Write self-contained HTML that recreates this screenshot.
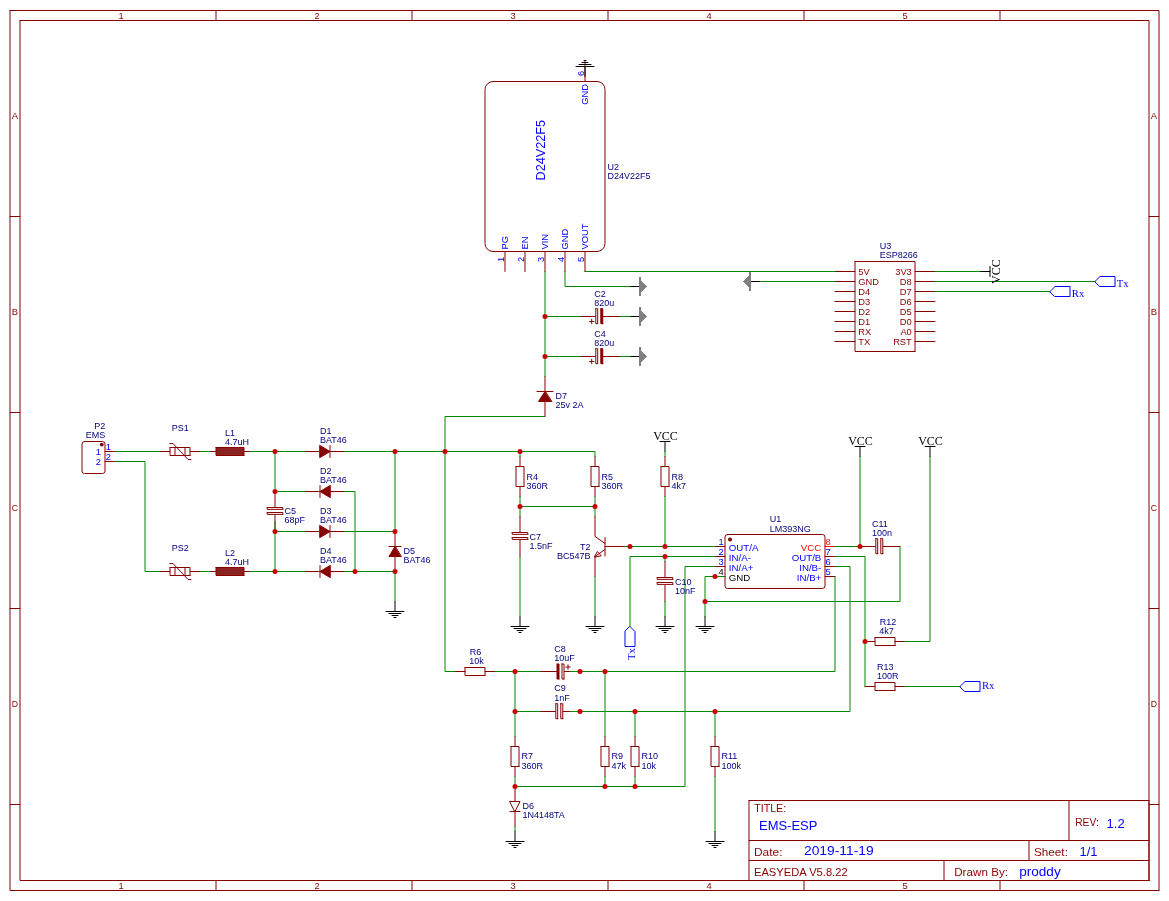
<!DOCTYPE html>
<html><head><meta charset="utf-8"><title>EMS-ESP schematic</title>
<style>html,body{margin:0;padding:0;background:#fff}svg{display:block;will-change:transform}text{white-space:pre}</style>
</head><body>
<svg width="1169" height="901" viewBox="0 0 1169 901">
<rect x="0" y="0" width="1169" height="901" fill="#FFFFFF"/>
<g transform="translate(0,0.5)" fill="none" stroke-linecap="round" stroke-linejoin="round">
<path d="M10 10L1159 10L1159 890M1159 890L10 890L10 10" stroke="#880000" stroke-width="1" fill="none"/>
<path d="M20 20L1149 20L1149 880M1149 880L20 880L20 20" stroke="#880000" stroke-width="1" fill="none"/>
<path d="M216 10L216 20" stroke="#880000" stroke-width="1" />
<path d="M216 880L216 890" stroke="#880000" stroke-width="1" />
<path d="M412 10L412 20" stroke="#880000" stroke-width="1" />
<path d="M412 880L412 890" stroke="#880000" stroke-width="1" />
<path d="M608 10L608 20" stroke="#880000" stroke-width="1" />
<path d="M608 880L608 890" stroke="#880000" stroke-width="1" />
<path d="M804 10L804 20" stroke="#880000" stroke-width="1" />
<path d="M804 880L804 890" stroke="#880000" stroke-width="1" />
<path d="M1000 10L1000 20" stroke="#880000" stroke-width="1" />
<path d="M1000 880L1000 890" stroke="#880000" stroke-width="1" />
<path d="M10 216L20 216" stroke="#880000" stroke-width="1" />
<path d="M1149 216L1159 216" stroke="#880000" stroke-width="1" />
<path d="M10 412L20 412" stroke="#880000" stroke-width="1" />
<path d="M1149 412L1159 412" stroke="#880000" stroke-width="1" />
<path d="M10 608L20 608" stroke="#880000" stroke-width="1" />
<path d="M1149 608L1159 608" stroke="#880000" stroke-width="1" />
<path d="M10 804L20 804" stroke="#880000" stroke-width="1" />
<path d="M1149 804L1159 804" stroke="#880000" stroke-width="1" />
<path d="M749 800L1149 800L1149 880M1149 880L749 880L749 800" stroke="#880000" stroke-width="1" fill="none"/>
<path d="M749 840L1149 840" stroke="#880000" stroke-width="1" />
<path d="M749 860L1149 860" stroke="#880000" stroke-width="1" />
<path d="M1069 800L1069 840" stroke="#880000" stroke-width="1" />
<path d="M1029 840L1029 860" stroke="#880000" stroke-width="1" />
<path d="M944 860L944 880" stroke="#880000" stroke-width="1" />
<path d="M493 81L597 81A8 8 0 0 1 605 89L605 243A8 8 0 0 1 597 251L493 251A8 8 0 0 1 485 243L485 89A8 8 0 0 1 493 81Z" stroke="#880000" stroke-width="1" fill="none"/>
<path d="M505 251L505 271" stroke="#880000" stroke-width="1" />
<path d="M525 251L525 271" stroke="#880000" stroke-width="1" />
<path d="M545 251L545 271" stroke="#880000" stroke-width="1" />
<path d="M565 251L565 271" stroke="#880000" stroke-width="1" />
<path d="M585 251L585 271" stroke="#880000" stroke-width="1" />
<path d="M585 81L585 61" stroke="#880000" stroke-width="1" />
<path d="M585 76L585 66" stroke="#000000" stroke-width="1" />
<path d="M576 66L594 66" stroke="#000000" stroke-width="1" />
<path d="M579 64L591 64" stroke="#000000" stroke-width="1" />
<path d="M582 62L588 62" stroke="#000000" stroke-width="1" />
<path d="M584 60L586 60" stroke="#000000" stroke-width="1" />
<path d="M855 261L915 261L915 351M915 351L855 351L855 261" stroke="#880000" stroke-width="1" fill="none"/>
<path d="M835 271L855 271" stroke="#880000" stroke-width="1" />
<path d="M915 271L935 271" stroke="#880000" stroke-width="1" />
<path d="M835 281L855 281" stroke="#880000" stroke-width="1" />
<path d="M915 281L935 281" stroke="#880000" stroke-width="1" />
<path d="M835 291L855 291" stroke="#880000" stroke-width="1" />
<path d="M915 291L935 291" stroke="#880000" stroke-width="1" />
<path d="M835 301L855 301" stroke="#880000" stroke-width="1" />
<path d="M915 301L935 301" stroke="#880000" stroke-width="1" />
<path d="M835 311L855 311" stroke="#880000" stroke-width="1" />
<path d="M915 311L935 311" stroke="#880000" stroke-width="1" />
<path d="M835 321L855 321" stroke="#880000" stroke-width="1" />
<path d="M915 321L935 321" stroke="#880000" stroke-width="1" />
<path d="M835 331L855 331" stroke="#880000" stroke-width="1" />
<path d="M915 331L935 331" stroke="#880000" stroke-width="1" />
<path d="M835 341L855 341" stroke="#880000" stroke-width="1" />
<path d="M915 341L935 341" stroke="#880000" stroke-width="1" />
<path d="M630 286L640 286" stroke="#000000" stroke-width="1" />
<path d="M639 276.5L641 276.5L641 279.5L647.3 286L641 292.5L641 295.5L639 295.5Z" fill="#808080" stroke="none" shape-rendering="crispEdges"/>
<path d="M630 316L640 316" stroke="#000000" stroke-width="1" />
<path d="M639 306.5L641 306.5L641 309.5L647.3 316L641 322.5L641 325.5L639 325.5Z" fill="#808080" stroke="none" shape-rendering="crispEdges"/>
<path d="M630 356L640 356" stroke="#000000" stroke-width="1" />
<path d="M639 346.5L641 346.5L641 349.5L647.3 356L641 362.5L641 365.5L639 365.5Z" fill="#808080" stroke="none" shape-rendering="crispEdges"/>
<path d="M760 281L750 281" stroke="#000000" stroke-width="1" />
<path d="M751 271.5L749 271.5L749 274.5L742.7 281L749 287.5L749 290.5L751 290.5Z" fill="#808080" stroke="none" shape-rendering="crispEdges"/>
<path d="M580 316L596 316" stroke="#880000" stroke-width="1" />
<path d="M603 316L620 316" stroke="#880000" stroke-width="1" />
<path d="M595.8 308.2L597.7 308.2L597.7 323.2L595.8 323.2Z" stroke="none" fill="#fff"/>
<path d="M595.8 308.2L597.7 308.2L597.7 323.2M597.7 323.2L595.8 323.2L595.8 308.2" stroke="#880000" stroke-width="1" fill="none"/>
<path d="M600.8 308.2L602.8 308.2L602.8 323.2L600.8 323.2Z" stroke="none" fill="#880000"/>
<path d="M600.8 308.2L602.8 308.2L602.8 323.2M602.8 323.2L600.8 323.2L600.8 308.2" stroke="#880000" stroke-width="1" fill="none"/>
<path d="M589.5 321L593.9000000000001 321" stroke="#880000" stroke-width="1" />
<path d="M591.7 318.8L591.7 323.2" stroke="#880000" stroke-width="1" />
<path d="M580 356L596 356" stroke="#880000" stroke-width="1" />
<path d="M603 356L620 356" stroke="#880000" stroke-width="1" />
<path d="M595.8 348.2L597.7 348.2L597.7 363.2L595.8 363.2Z" stroke="none" fill="#fff"/>
<path d="M595.8 348.2L597.7 348.2L597.7 363.2M597.7 363.2L595.8 363.2L595.8 348.2" stroke="#880000" stroke-width="1" fill="none"/>
<path d="M600.8 348.2L602.8 348.2L602.8 363.2L600.8 363.2Z" stroke="none" fill="#880000"/>
<path d="M600.8 348.2L602.8 348.2L602.8 363.2M602.8 363.2L600.8 363.2L600.8 348.2" stroke="#880000" stroke-width="1" fill="none"/>
<path d="M589.5 361L593.9000000000001 361" stroke="#880000" stroke-width="1" />
<path d="M591.7 358.8L591.7 363.2" stroke="#880000" stroke-width="1" />
<path d="M545 376L545 416" stroke="#880000" stroke-width="1" />
<path d="M545 391L538.5 401L551.5 401Z" stroke="#880000" stroke-width="1" fill="#880000" />
<path d="M537 391L553 391" stroke="#880000" stroke-width="1" />
<path d="M980 271L990 271" stroke="#000000" stroke-width="1" />
<path d="M990 266L990 276" stroke="#000000" stroke-width="1" />
<path d="M1095 281L1100 276L1115 276L1115 286L1100 286Z" stroke="#0000FF" stroke-width="1" fill="none" />
<path d="M1050 291L1055 286L1070 286L1070 296L1055 296Z" stroke="#0000FF" stroke-width="1" fill="none" />
<path d="M960 686L965 681L980 681L980 691L965 691Z" stroke="#0000FF" stroke-width="1" fill="none" />
<path d="M630 626L635 631L635 646L625 646L625 631Z" stroke="#0000FF" stroke-width="1" fill="none" />
<path d="M84.5 441L102.5 441A2.5 2.5 0 0 1 105 443.5L105 470.5A2.5 2.5 0 0 1 102.5 473L84.5 473A2.5 2.5 0 0 1 82 470.5L82 443.5A2.5 2.5 0 0 1 84.5 441Z" stroke="#880000" stroke-width="1" fill="none"/>
<circle cx="101.8" cy="444.1" r="1.9" fill="#880000"/>
<path d="M105 451L115 451" stroke="#880000" stroke-width="1" />
<path d="M105 461L115 461" stroke="#880000" stroke-width="1" />
<path d="M160 451L170 451" stroke="#880000" stroke-width="1" />
<path d="M190 451L200 451" stroke="#880000" stroke-width="1" />
<path d="M170 447L190 447L190 455M190 455L170 455L170 447" stroke="#880000" stroke-width="1" fill="none"/>
<path d="M175 447L175 455" stroke="#880000" stroke-width="1" />
<path d="M185 447L185 455" stroke="#880000" stroke-width="1" />
<path d="M170 443L173 443L188 459L191 459" stroke="#880000" stroke-width="1" fill="none" />
<path d="M210 451L216 451" stroke="#880000" stroke-width="1" />
<path d="M244 451L250 451" stroke="#880000" stroke-width="1" />
<path d="M216 447L244 447L244 455L216 455Z" stroke="none" fill="#8B2323"/>
<path d="M216 447L244 447L244 455M244 455L216 455L216 447" stroke="#880000" stroke-width="1" fill="none"/>
<path d="M160 571L170 571" stroke="#880000" stroke-width="1" />
<path d="M190 571L200 571" stroke="#880000" stroke-width="1" />
<path d="M170 567L190 567L190 575M190 575L170 575L170 567" stroke="#880000" stroke-width="1" fill="none"/>
<path d="M175 567L175 575" stroke="#880000" stroke-width="1" />
<path d="M185 567L185 575" stroke="#880000" stroke-width="1" />
<path d="M170 563L173 563L188 579L191 579" stroke="#880000" stroke-width="1" fill="none" />
<path d="M210 571L216 571" stroke="#880000" stroke-width="1" />
<path d="M244 571L250 571" stroke="#880000" stroke-width="1" />
<path d="M216 567L244 567L244 575L216 575Z" stroke="none" fill="#8B2323"/>
<path d="M216 567L244 567L244 575M244 575L216 575L216 567" stroke="#880000" stroke-width="1" fill="none"/>
<path d="M305 451L345 451" stroke="#880000" stroke-width="1" />
<path d="M320 445L330 451L320 457Z" stroke="#880000" stroke-width="1" fill="#880000" />
<path d="M330 445L330 457" stroke="#880000" stroke-width="1" />
<path d="M305 491L345 491" stroke="#880000" stroke-width="1" />
<path d="M330 485L320 491L330 497Z" stroke="#880000" stroke-width="1" fill="#880000" />
<path d="M320 485L320 497" stroke="#880000" stroke-width="1" />
<path d="M305 531L345 531" stroke="#880000" stroke-width="1" />
<path d="M320 525L330 531L320 537Z" stroke="#880000" stroke-width="1" fill="#880000" />
<path d="M330 525L330 537" stroke="#880000" stroke-width="1" />
<path d="M305 571L345 571" stroke="#880000" stroke-width="1" />
<path d="M330 565L320 571L330 577Z" stroke="#880000" stroke-width="1" fill="#880000" />
<path d="M320 565L320 577" stroke="#880000" stroke-width="1" />
<path d="M275 491L275 507" stroke="#880000" stroke-width="1" />
<path d="M275 514L275 531" stroke="#880000" stroke-width="1" />
<path d="M267.2 507L282.8 507L282.8 508.85L267.2 508.85Z" stroke="none" fill="#fff"/>
<path d="M267.2 507L282.8 507L282.8 508.85M282.8 508.85L267.2 508.85L267.2 507" stroke="#880000" stroke-width="1" fill="none"/>
<path d="M267.2 512L282.8 512L282.8 513.9L267.2 513.9Z" stroke="none" fill="#fff"/>
<path d="M267.2 512L282.8 512L282.8 513.9M282.8 513.9L267.2 513.9L267.2 512" stroke="#880000" stroke-width="1" fill="none"/>
<path d="M395 531L395 571" stroke="#880000" stroke-width="1" />
<path d="M395 546L389 556L401 556Z" stroke="#880000" stroke-width="1" fill="#880000" />
<path d="M389 546L401 546" stroke="#880000" stroke-width="1" />
<path d="M395 601L395 611" stroke="#000000" stroke-width="1" />
<path d="M386 611L404 611" stroke="#000000" stroke-width="1" />
<path d="M389 613L401 613" stroke="#000000" stroke-width="1" />
<path d="M392 615L398 615" stroke="#000000" stroke-width="1" />
<path d="M394 617L396 617" stroke="#000000" stroke-width="1" />
<path d="M520 456L520 466" stroke="#880000" stroke-width="1" />
<path d="M520 486L520 496" stroke="#880000" stroke-width="1" />
<path d="M516 466L524 466L524 486M524 486L516 486L516 466" stroke="#880000" stroke-width="1" fill="none"/>
<path d="M595 456L595 466" stroke="#880000" stroke-width="1" />
<path d="M595 486L595 496" stroke="#880000" stroke-width="1" />
<path d="M591 466L599 466L599 486M599 486L591 486L591 466" stroke="#880000" stroke-width="1" fill="none"/>
<path d="M665 456L665 466" stroke="#880000" stroke-width="1" />
<path d="M665 486L665 496" stroke="#880000" stroke-width="1" />
<path d="M661 466L669 466L669 486M669 486L661 486L661 466" stroke="#880000" stroke-width="1" fill="none"/>
<path d="M520 516L520 532" stroke="#880000" stroke-width="1" />
<path d="M520 539L520 556" stroke="#880000" stroke-width="1" />
<path d="M512.2 532L527.8 532L527.8 533.85L512.2 533.85Z" stroke="none" fill="#fff"/>
<path d="M512.2 532L527.8 532L527.8 533.85M527.8 533.85L512.2 533.85L512.2 532" stroke="#880000" stroke-width="1" fill="none"/>
<path d="M512.2 537L527.8 537L527.8 538.9L512.2 538.9Z" stroke="none" fill="#fff"/>
<path d="M512.2 537L527.8 537L527.8 538.9M527.8 538.9L512.2 538.9L512.2 537" stroke="#880000" stroke-width="1" fill="none"/>
<path d="M520 616L520 626" stroke="#000000" stroke-width="1" />
<path d="M511 626L529 626" stroke="#000000" stroke-width="1" />
<path d="M514 628L526 628" stroke="#000000" stroke-width="1" />
<path d="M517 630L523 630" stroke="#000000" stroke-width="1" />
<path d="M519 632L521 632" stroke="#000000" stroke-width="1" />
<path d="M595 616L595 626" stroke="#000000" stroke-width="1" />
<path d="M586 626L604 626" stroke="#000000" stroke-width="1" />
<path d="M589 628L601 628" stroke="#000000" stroke-width="1" />
<path d="M592 630L598 630" stroke="#000000" stroke-width="1" />
<path d="M594 632L596 632" stroke="#000000" stroke-width="1" />
<path d="M595 516L595 536L605 543" stroke="#880000" stroke-width="1" fill="none" />
<path d="M605 537L605 555.5" stroke="#880000" stroke-width="1" />
<path d="M605 546L625 546" stroke="#880000" stroke-width="1" />
<path d="M605 549L595 556L595 576" stroke="#880000" stroke-width="1" fill="none" />
<path d="M594.5 556.3L597.3 551L601 555Z" stroke="#880000" stroke-width="1" fill="none" />
<path d="M665 441L665 451" stroke="#000000" stroke-width="1" />
<path d="M660 441L670 441" stroke="#000000" stroke-width="1" />
<text x="665.5" y="439" fill="#000000" font-size="12" style="font-family:'Liberation Serif',serif" text-anchor="middle" >VCC</text>
<path d="M860 446L860 456" stroke="#000000" stroke-width="1" />
<path d="M855 446L865 446" stroke="#000000" stroke-width="1" />
<text x="860.5" y="444" fill="#000000" font-size="12" style="font-family:'Liberation Serif',serif" text-anchor="middle" >VCC</text>
<path d="M930 446L930 456" stroke="#000000" stroke-width="1" />
<path d="M925 446L935 446" stroke="#000000" stroke-width="1" />
<text x="930.5" y="444" fill="#000000" font-size="12" style="font-family:'Liberation Serif',serif" text-anchor="middle" >VCC</text>
<path d="M665 561L665 577" stroke="#880000" stroke-width="1" />
<path d="M665 584L665 601" stroke="#880000" stroke-width="1" />
<path d="M657.2 577L672.8 577L672.8 578.85L657.2 578.85Z" stroke="none" fill="#fff"/>
<path d="M657.2 577L672.8 577L672.8 578.85M672.8 578.85L657.2 578.85L657.2 577" stroke="#880000" stroke-width="1" fill="none"/>
<path d="M657.2 582L672.8 582L672.8 583.9L657.2 583.9Z" stroke="none" fill="#fff"/>
<path d="M657.2 582L672.8 582L672.8 583.9M672.8 583.9L657.2 583.9L657.2 582" stroke="#880000" stroke-width="1" fill="none"/>
<path d="M665 616L665 626" stroke="#000000" stroke-width="1" />
<path d="M656 626L674 626" stroke="#000000" stroke-width="1" />
<path d="M659 628L671 628" stroke="#000000" stroke-width="1" />
<path d="M662 630L668 630" stroke="#000000" stroke-width="1" />
<path d="M664 632L666 632" stroke="#000000" stroke-width="1" />
<path d="M705 616L705 626" stroke="#000000" stroke-width="1" />
<path d="M696 626L714 626" stroke="#000000" stroke-width="1" />
<path d="M699 628L711 628" stroke="#000000" stroke-width="1" />
<path d="M702 630L708 630" stroke="#000000" stroke-width="1" />
<path d="M704 632L706 632" stroke="#000000" stroke-width="1" />
<path d="M727.5 534L822.5 534A2.5 2.5 0 0 1 825 536.5L825 585.5A2.5 2.5 0 0 1 822.5 588L727.5 588A2.5 2.5 0 0 1 725 585.5L725 536.5A2.5 2.5 0 0 1 727.5 534Z" stroke="#880000" stroke-width="1" fill="none"/>
<circle cx="730" cy="539" r="2" fill="#880000"/>
<path d="M715 546L725 546" stroke="#880000" stroke-width="1" />
<path d="M825 546L835 546" stroke="#FF0000" stroke-width="1" />
<path d="M715 556L725 556" stroke="#880000" stroke-width="1" />
<path d="M825 556L835 556" stroke="#880000" stroke-width="1" />
<path d="M715 566L725 566" stroke="#880000" stroke-width="1" />
<path d="M825 566L835 566" stroke="#880000" stroke-width="1" />
<path d="M715 576L725 576" stroke="#880000" stroke-width="1" />
<path d="M825 576L835 576" stroke="#880000" stroke-width="1" />
<path d="M860 546L876 546" stroke="#880000" stroke-width="1" />
<path d="M883 546L900 546" stroke="#880000" stroke-width="1" />
<path d="M875.8 538.2L877.7 538.2L877.7 553.2L875.8 553.2Z" stroke="none" fill="#fff"/>
<path d="M875.8 538.2L877.7 538.2L877.7 553.2M877.7 553.2L875.8 553.2L875.8 538.2" stroke="#880000" stroke-width="1" fill="none"/>
<path d="M880.8 538.2L882.8 538.2L882.8 553.2L880.8 553.2Z" stroke="none" fill="#fff"/>
<path d="M880.8 538.2L882.8 538.2L882.8 553.2M882.8 553.2L880.8 553.2L880.8 538.2" stroke="#880000" stroke-width="1" fill="none"/>
<path d="M865 641L875 641" stroke="#880000" stroke-width="1" />
<path d="M895 641L905 641" stroke="#880000" stroke-width="1" />
<path d="M875 637L895 637L895 645M895 645L875 645L875 637" stroke="#880000" stroke-width="1" fill="none"/>
<path d="M865 686L875 686" stroke="#880000" stroke-width="1" />
<path d="M895 686L905 686" stroke="#880000" stroke-width="1" />
<path d="M875 682L895 682L895 690M895 690L875 690L875 682" stroke="#880000" stroke-width="1" fill="none"/>
<path d="M455 671L465 671" stroke="#880000" stroke-width="1" />
<path d="M485 671L495 671" stroke="#880000" stroke-width="1" />
<path d="M465 667L485 667L485 675M485 675L465 675L465 667" stroke="#880000" stroke-width="1" fill="none"/>
<path d="M540 671L557 671" stroke="#880000" stroke-width="1" />
<path d="M564 671L580 671" stroke="#880000" stroke-width="1" />
<path d="M557 663.5L559 663.5L559 678.5L557 678.5Z" stroke="none" fill="#880000"/>
<path d="M557 663.5L559 663.5L559 678.5M559 678.5L557 678.5L557 663.5" stroke="#880000" stroke-width="1" fill="none"/>
<path d="M562 663.5L564 663.5L564 678.5L562 678.5Z" stroke="none" fill="#fff"/>
<path d="M562 663.5L564 663.5L564 678.5M564 678.5L562 678.5L562 663.5" stroke="#880000" stroke-width="1" fill="none"/>
<path d="M565.8 666.5L570.2 666.5" stroke="#880000" stroke-width="1" />
<path d="M568 664.3L568 668.7" stroke="#880000" stroke-width="1" />
<path d="M540 711L556 711" stroke="#880000" stroke-width="1" />
<path d="M563 711L580 711" stroke="#880000" stroke-width="1" />
<path d="M555.8 703.2L557.7 703.2L557.7 718.2L555.8 718.2Z" stroke="none" fill="#fff"/>
<path d="M555.8 703.2L557.7 703.2L557.7 718.2M557.7 718.2L555.8 718.2L555.8 703.2" stroke="#880000" stroke-width="1" fill="none"/>
<path d="M560.8 703.2L562.8 703.2L562.8 718.2L560.8 718.2Z" stroke="none" fill="#fff"/>
<path d="M560.8 703.2L562.8 703.2L562.8 718.2M562.8 718.2L560.8 718.2L560.8 703.2" stroke="#880000" stroke-width="1" fill="none"/>
<path d="M515 736L515 746" stroke="#880000" stroke-width="1" />
<path d="M515 766L515 776" stroke="#880000" stroke-width="1" />
<path d="M511 746L519 746L519 766M519 766L511 766L511 746" stroke="#880000" stroke-width="1" fill="none"/>
<path d="M605 736L605 746" stroke="#880000" stroke-width="1" />
<path d="M605 766L605 776" stroke="#880000" stroke-width="1" />
<path d="M601 746L609 746L609 766M609 766L601 766L601 746" stroke="#880000" stroke-width="1" fill="none"/>
<path d="M635 736L635 746" stroke="#880000" stroke-width="1" />
<path d="M635 766L635 776" stroke="#880000" stroke-width="1" />
<path d="M631 746L639 746L639 766M639 766L631 766L631 746" stroke="#880000" stroke-width="1" fill="none"/>
<path d="M715 736L715 746" stroke="#880000" stroke-width="1" />
<path d="M715 766L715 776" stroke="#880000" stroke-width="1" />
<path d="M711 746L719 746L719 766M719 766L711 766L711 746" stroke="#880000" stroke-width="1" fill="none"/>
<path d="M515 786L515 801" stroke="#880000" stroke-width="1" />
<path d="M515 811L515 826" stroke="#880000" stroke-width="1" />
<path d="M510 801L520 801L515 811Z" stroke="#880000" stroke-width="1" fill="none" />
<path d="M510 811L520 811" stroke="#880000" stroke-width="1" />
<path d="M515 831L515 841" stroke="#000000" stroke-width="1" />
<path d="M506 841L524 841" stroke="#000000" stroke-width="1" />
<path d="M509 843L521 843" stroke="#000000" stroke-width="1" />
<path d="M512 845L518 845" stroke="#000000" stroke-width="1" />
<path d="M514 847L516 847" stroke="#000000" stroke-width="1" />
<path d="M715 831L715 841" stroke="#000000" stroke-width="1" />
<path d="M706 841L724 841" stroke="#000000" stroke-width="1" />
<path d="M709 843L721 843" stroke="#000000" stroke-width="1" />
<path d="M712 845L718 845" stroke="#000000" stroke-width="1" />
<path d="M714 847L716 847" stroke="#000000" stroke-width="1" />
<path d="M585 271L835 271" stroke="#008800" stroke-width="1" fill="none" />
<path d="M565 271L565 286L630 286" stroke="#008800" stroke-width="1" fill="none" />
<path d="M545 271L545 376" stroke="#008800" stroke-width="1" fill="none" />
<path d="M545 316L580 316" stroke="#008800" stroke-width="1" fill="none" />
<path d="M620 316L630 316" stroke="#008800" stroke-width="1" fill="none" />
<path d="M545 356L580 356" stroke="#008800" stroke-width="1" fill="none" />
<path d="M620 356L630 356" stroke="#008800" stroke-width="1" fill="none" />
<path d="M545 416L445 416L445 671L455 671" stroke="#008800" stroke-width="1" fill="none" />
<path d="M760 281L835 281" stroke="#008800" stroke-width="1" fill="none" />
<path d="M935 271L980 271" stroke="#008800" stroke-width="1" fill="none" />
<path d="M935 281L1095 281" stroke="#008800" stroke-width="1" fill="none" />
<path d="M935 291L1050 291" stroke="#008800" stroke-width="1" fill="none" />
<path d="M115 451L160 451" stroke="#008800" stroke-width="1" fill="none" />
<path d="M200 451L210 451" stroke="#008800" stroke-width="1" fill="none" />
<path d="M250 451L305 451" stroke="#008800" stroke-width="1" fill="none" />
<path d="M345 451L595 451L595 456" stroke="#008800" stroke-width="1" fill="none" />
<path d="M115 461L145 461L145 571L160 571" stroke="#008800" stroke-width="1" fill="none" />
<path d="M200 571L210 571" stroke="#008800" stroke-width="1" fill="none" />
<path d="M250 571L305 571" stroke="#008800" stroke-width="1" fill="none" />
<path d="M345 571L395 571" stroke="#008800" stroke-width="1" fill="none" />
<path d="M275 451L275 491" stroke="#008800" stroke-width="1" fill="none" />
<path d="M275 521L275 571" stroke="#008800" stroke-width="1" fill="none" />
<path d="M275 491L305 491" stroke="#008800" stroke-width="1" fill="none" />
<path d="M345 491L355 491L355 571" stroke="#008800" stroke-width="1" fill="none" />
<path d="M275 531L305 531" stroke="#008800" stroke-width="1" fill="none" />
<path d="M345 531L395 531" stroke="#008800" stroke-width="1" fill="none" />
<path d="M395 451L395 531" stroke="#008800" stroke-width="1" fill="none" />
<path d="M395 571L395 601" stroke="#008800" stroke-width="1" fill="none" />
<path d="M520 451L520 456" stroke="#008800" stroke-width="1" fill="none" />
<path d="M520 496L520 516" stroke="#008800" stroke-width="1" fill="none" />
<path d="M520 556L520 616" stroke="#008800" stroke-width="1" fill="none" />
<path d="M520 506L595 506" stroke="#008800" stroke-width="1" fill="none" />
<path d="M595 496L595 516" stroke="#008800" stroke-width="1" fill="none" />
<path d="M595 576L595 616" stroke="#008800" stroke-width="1" fill="none" />
<path d="M625 546L715 546" stroke="#008800" stroke-width="1" fill="none" />
<path d="M665 451L665 456" stroke="#008800" stroke-width="1" fill="none" />
<path d="M665 496L665 546" stroke="#008800" stroke-width="1" fill="none" />
<path d="M715 556L630 556L630 626" stroke="#008800" stroke-width="1" fill="none" />
<path d="M665 556L665 561" stroke="#008800" stroke-width="1" fill="none" />
<path d="M665 601L665 616" stroke="#008800" stroke-width="1" fill="none" />
<path d="M715 566L685 566L685 786L515 786" stroke="#008800" stroke-width="1" fill="none" />
<path d="M725 576L705 576L705 616" stroke="#008800" stroke-width="1" fill="none" />
<path d="M705 601L900 601L900 546" stroke="#008800" stroke-width="1" fill="none" />
<path d="M835 546L860 546" stroke="#008800" stroke-width="1" fill="none" />
<path d="M860 456L860 546" stroke="#008800" stroke-width="1" fill="none" />
<path d="M835 556L865 556L865 686" stroke="#008800" stroke-width="1" fill="none" />
<path d="M905 641L930 641L930 456" stroke="#008800" stroke-width="1" fill="none" />
<path d="M905 686L960 686" stroke="#008800" stroke-width="1" fill="none" />
<path d="M835 566L850 566L850 711L570 711" stroke="#008800" stroke-width="1" fill="none" />
<path d="M515 711L540 711" stroke="#008800" stroke-width="1" fill="none" />
<path d="M835 576L835 671L570 671" stroke="#008800" stroke-width="1" fill="none" />
<path d="M495 671L540 671" stroke="#008800" stroke-width="1" fill="none" />
<path d="M515 671L515 736" stroke="#008800" stroke-width="1" fill="none" />
<path d="M515 776L515 786" stroke="#008800" stroke-width="1" fill="none" />
<path d="M515 826L515 831" stroke="#008800" stroke-width="1" fill="none" />
<path d="M605 671L605 736" stroke="#008800" stroke-width="1" fill="none" />
<path d="M605 776L605 786" stroke="#008800" stroke-width="1" fill="none" />
<path d="M635 711L635 736" stroke="#008800" stroke-width="1" fill="none" />
<path d="M635 776L635 786" stroke="#008800" stroke-width="1" fill="none" />
<path d="M715 711L715 736" stroke="#008800" stroke-width="1" fill="none" />
<path d="M715 776L715 831" stroke="#008800" stroke-width="1" fill="none" />
<circle cx="545" cy="316" r="2.5" fill="#CC0000"/>
<circle cx="545" cy="356" r="2.5" fill="#CC0000"/>
<circle cx="275" cy="451" r="2.5" fill="#CC0000"/>
<circle cx="395" cy="451" r="2.5" fill="#CC0000"/>
<circle cx="445" cy="451" r="2.5" fill="#CC0000"/>
<circle cx="520" cy="451" r="2.5" fill="#CC0000"/>
<circle cx="275" cy="491" r="2.5" fill="#CC0000"/>
<circle cx="275" cy="531" r="2.5" fill="#CC0000"/>
<circle cx="395" cy="531" r="2.5" fill="#CC0000"/>
<circle cx="275" cy="571" r="2.5" fill="#CC0000"/>
<circle cx="355" cy="571" r="2.5" fill="#CC0000"/>
<circle cx="395" cy="571" r="2.5" fill="#CC0000"/>
<circle cx="520" cy="506" r="2.5" fill="#CC0000"/>
<circle cx="595" cy="506" r="2.5" fill="#CC0000"/>
<circle cx="630" cy="546" r="2.5" fill="#CC0000"/>
<circle cx="665" cy="546" r="2.5" fill="#CC0000"/>
<circle cx="665" cy="556" r="2.5" fill="#CC0000"/>
<circle cx="715" cy="576" r="2.5" fill="#CC0000"/>
<circle cx="705" cy="601" r="2.5" fill="#CC0000"/>
<circle cx="860" cy="546" r="2.5" fill="#CC0000"/>
<circle cx="865" cy="641" r="2.5" fill="#CC0000"/>
<circle cx="515" cy="671" r="2.5" fill="#CC0000"/>
<circle cx="580" cy="671" r="2.5" fill="#CC0000"/>
<circle cx="605" cy="671" r="2.5" fill="#CC0000"/>
<circle cx="515" cy="711" r="2.5" fill="#CC0000"/>
<circle cx="580" cy="711" r="2.5" fill="#CC0000"/>
<circle cx="635" cy="711" r="2.5" fill="#CC0000"/>
<circle cx="715" cy="711" r="2.5" fill="#CC0000"/>
<circle cx="515" cy="786" r="2.5" fill="#CC0000"/>
<circle cx="605" cy="786" r="2.5" fill="#CC0000"/>
<circle cx="635" cy="786" r="2.5" fill="#CC0000"/>
</g>
<g stroke="none">
<text x="607.5" y="169.5" fill="#000080" font-size="9" style="font-family:'Liberation Sans',sans-serif" >U2</text>
<text x="607.5" y="178.5" fill="#000080" font-size="9" style="font-family:'Liberation Sans',sans-serif" >D24V22F5</text>
<text x="879.8" y="249.3" fill="#000080" font-size="9" style="font-family:'Liberation Sans',sans-serif" >U3</text>
<text x="879.8" y="258.3" fill="#000080" font-size="9" style="font-family:'Liberation Sans',sans-serif" >ESP8266</text>
<text x="594.2" y="296.6" fill="#000080" font-size="9" style="font-family:'Liberation Sans',sans-serif" >C2</text>
<text x="594.2" y="305.6" fill="#000080" font-size="9" style="font-family:'Liberation Sans',sans-serif" >820u</text>
<text x="594.2" y="336.6" fill="#000080" font-size="9" style="font-family:'Liberation Sans',sans-serif" >C4</text>
<text x="594.2" y="345.6" fill="#000080" font-size="9" style="font-family:'Liberation Sans',sans-serif" >820u</text>
<text x="555.5" y="399.4" fill="#000080" font-size="9" style="font-family:'Liberation Sans',sans-serif" >D7</text>
<text x="555.5" y="408.4" fill="#000080" font-size="9" style="font-family:'Liberation Sans',sans-serif" >25v 2A</text>
<text x="171.8" y="431.4" fill="#000080" font-size="9" style="font-family:'Liberation Sans',sans-serif" >PS1</text>
<text x="171.8" y="551.4" fill="#000080" font-size="9" style="font-family:'Liberation Sans',sans-serif" >PS2</text>
<text x="225" y="435.6" fill="#000080" font-size="9" style="font-family:'Liberation Sans',sans-serif" >L1</text>
<text x="225" y="444.6" fill="#000080" font-size="9" style="font-family:'Liberation Sans',sans-serif" >4.7uH</text>
<text x="225" y="555.6" fill="#000080" font-size="9" style="font-family:'Liberation Sans',sans-serif" >L2</text>
<text x="225" y="564.6" fill="#000080" font-size="9" style="font-family:'Liberation Sans',sans-serif" >4.7uH</text>
<text x="320" y="433.5" fill="#000080" font-size="9" style="font-family:'Liberation Sans',sans-serif" >D1</text>
<text x="320" y="442.5" fill="#000080" font-size="9" style="font-family:'Liberation Sans',sans-serif" >BAT46</text>
<text x="320" y="473.5" fill="#000080" font-size="9" style="font-family:'Liberation Sans',sans-serif" >D2</text>
<text x="320" y="482.5" fill="#000080" font-size="9" style="font-family:'Liberation Sans',sans-serif" >BAT46</text>
<text x="320" y="513.5" fill="#000080" font-size="9" style="font-family:'Liberation Sans',sans-serif" >D3</text>
<text x="320" y="522.5" fill="#000080" font-size="9" style="font-family:'Liberation Sans',sans-serif" >BAT46</text>
<text x="320" y="553.5" fill="#000080" font-size="9" style="font-family:'Liberation Sans',sans-serif" >D4</text>
<text x="320" y="562.5" fill="#000080" font-size="9" style="font-family:'Liberation Sans',sans-serif" >BAT46</text>
<text x="284.5" y="513.7" fill="#000080" font-size="9" style="font-family:'Liberation Sans',sans-serif" >C5</text>
<text x="284.5" y="522.8" fill="#000080" font-size="9" style="font-family:'Liberation Sans',sans-serif" >68pF</text>
<text x="403.6" y="554.3" fill="#000080" font-size="9" style="font-family:'Liberation Sans',sans-serif" >D5</text>
<text x="403.6" y="563.4" fill="#000080" font-size="9" style="font-family:'Liberation Sans',sans-serif" >BAT46</text>
<text x="526.5" y="479.5" fill="#000080" font-size="9" style="font-family:'Liberation Sans',sans-serif" >R4</text>
<text x="526.5" y="488.5" fill="#000080" font-size="9" style="font-family:'Liberation Sans',sans-serif" >360R</text>
<text x="601.5" y="479.5" fill="#000080" font-size="9" style="font-family:'Liberation Sans',sans-serif" >R5</text>
<text x="601.5" y="488.5" fill="#000080" font-size="9" style="font-family:'Liberation Sans',sans-serif" >360R</text>
<text x="529.4" y="539.6" fill="#000080" font-size="9" style="font-family:'Liberation Sans',sans-serif" >C7</text>
<text x="529.4" y="548.6" fill="#000080" font-size="9" style="font-family:'Liberation Sans',sans-serif" >1.5nF</text>
<text x="671.5" y="479.5" fill="#000080" font-size="9" style="font-family:'Liberation Sans',sans-serif" >R8</text>
<text x="671.5" y="488.5" fill="#000080" font-size="9" style="font-family:'Liberation Sans',sans-serif" >4k7</text>
<text x="675" y="584.5" fill="#000080" font-size="9" style="font-family:'Liberation Sans',sans-serif" >C10</text>
<text x="675" y="593.5" fill="#000080" font-size="9" style="font-family:'Liberation Sans',sans-serif" >10nF</text>
<text x="769.7" y="522.4" fill="#000080" font-size="9" style="font-family:'Liberation Sans',sans-serif" >U1</text>
<text x="769.7" y="531.5" fill="#000080" font-size="9" style="font-family:'Liberation Sans',sans-serif" >LM393NG</text>
<text x="871.9" y="526.5" fill="#000080" font-size="9" style="font-family:'Liberation Sans',sans-serif" >C11</text>
<text x="871.9" y="535.5" fill="#000080" font-size="9" style="font-family:'Liberation Sans',sans-serif" >100n</text>
<text x="879.7" y="625.3" fill="#000080" font-size="9" style="font-family:'Liberation Sans',sans-serif" >R12</text>
<text x="879.3" y="634.3" fill="#000080" font-size="9" style="font-family:'Liberation Sans',sans-serif" >4k7</text>
<text x="877" y="670.3" fill="#000080" font-size="9" style="font-family:'Liberation Sans',sans-serif" >R13</text>
<text x="877" y="679.3" fill="#000080" font-size="9" style="font-family:'Liberation Sans',sans-serif" >100R</text>
<text x="469.7" y="655" fill="#000080" font-size="9" style="font-family:'Liberation Sans',sans-serif" >R6</text>
<text x="469.3" y="664.1" fill="#000080" font-size="9" style="font-family:'Liberation Sans',sans-serif" >10k</text>
<text x="554.3" y="652" fill="#000080" font-size="9" style="font-family:'Liberation Sans',sans-serif" >C8</text>
<text x="554.3" y="661" fill="#000080" font-size="9" style="font-family:'Liberation Sans',sans-serif" >10uF</text>
<text x="554.3" y="691.4" fill="#000080" font-size="9" style="font-family:'Liberation Sans',sans-serif" >C9</text>
<text x="554.3" y="700.5" fill="#000080" font-size="9" style="font-family:'Liberation Sans',sans-serif" >1nF</text>
<text x="521.5" y="759.4" fill="#000080" font-size="9" style="font-family:'Liberation Sans',sans-serif" >R7</text>
<text x="521.5" y="768.5" fill="#000080" font-size="9" style="font-family:'Liberation Sans',sans-serif" >360R</text>
<text x="611.5" y="759.4" fill="#000080" font-size="9" style="font-family:'Liberation Sans',sans-serif" >R9</text>
<text x="611.5" y="768.5" fill="#000080" font-size="9" style="font-family:'Liberation Sans',sans-serif" >47k</text>
<text x="641.5" y="759.4" fill="#000080" font-size="9" style="font-family:'Liberation Sans',sans-serif" >R10</text>
<text x="641.5" y="768.5" fill="#000080" font-size="9" style="font-family:'Liberation Sans',sans-serif" >10k</text>
<text x="721.5" y="759.4" fill="#000080" font-size="9" style="font-family:'Liberation Sans',sans-serif" >R11</text>
<text x="721.5" y="768.5" fill="#000080" font-size="9" style="font-family:'Liberation Sans',sans-serif" >100k</text>
<text x="522.5" y="809.3" fill="#000080" font-size="9" style="font-family:'Liberation Sans',sans-serif" >D6</text>
<text x="522.5" y="818.4" fill="#000080" font-size="9" style="font-family:'Liberation Sans',sans-serif" >1N4148TA</text>
<text x="105.2" y="429.3" fill="#000080" font-size="9" style="font-family:'Liberation Sans',sans-serif" text-anchor="end" >P2</text>
<text x="105.2" y="438.4" fill="#000080" font-size="9" style="font-family:'Liberation Sans',sans-serif" text-anchor="end" >EMS</text>
<text x="590.6" y="549.5" fill="#000080" font-size="9" style="font-family:'Liberation Sans',sans-serif" text-anchor="end" >T2</text>
<text x="590.6" y="558.6" fill="#000080" font-size="9" style="font-family:'Liberation Sans',sans-serif" text-anchor="end" >BC547B</text>
<text x="545" y="180.5" fill="#0000FF" font-size="12.7" style="font-family:'Liberation Sans',sans-serif" transform="rotate(-90 545 180.5)" >D24V22F5</text>
<text x="508" y="249.5" fill="#0000FF" font-size="9.33" style="font-family:'Liberation Sans',sans-serif" transform="rotate(-90 508 249.5)" >PG</text>
<text x="528" y="249.5" fill="#0000FF" font-size="9.33" style="font-family:'Liberation Sans',sans-serif" transform="rotate(-90 528 249.5)" >EN</text>
<text x="548" y="249.5" fill="#0000FF" font-size="9.33" style="font-family:'Liberation Sans',sans-serif" transform="rotate(-90 548 249.5)" >VIN</text>
<text x="568" y="249.5" fill="#0000FF" font-size="9.33" style="font-family:'Liberation Sans',sans-serif" transform="rotate(-90 568 249.5)" >GND</text>
<text x="588" y="249.5" fill="#0000FF" font-size="9.33" style="font-family:'Liberation Sans',sans-serif" transform="rotate(-90 588 249.5)" >VOUT</text>
<text x="504" y="262" fill="#0000FF" font-size="9.33" style="font-family:'Liberation Sans',sans-serif" transform="rotate(-90 504 262)" >1</text>
<text x="524" y="262" fill="#0000FF" font-size="9.33" style="font-family:'Liberation Sans',sans-serif" transform="rotate(-90 524 262)" >2</text>
<text x="544" y="262" fill="#0000FF" font-size="9.33" style="font-family:'Liberation Sans',sans-serif" transform="rotate(-90 544 262)" >3</text>
<text x="564" y="262" fill="#0000FF" font-size="9.33" style="font-family:'Liberation Sans',sans-serif" transform="rotate(-90 564 262)" >4</text>
<text x="584" y="262" fill="#0000FF" font-size="9.33" style="font-family:'Liberation Sans',sans-serif" transform="rotate(-90 584 262)" >5</text>
<text x="587.5" y="84" fill="#0000FF" font-size="9.33" style="font-family:'Liberation Sans',sans-serif" text-anchor="end" transform="rotate(-90 587.5 84)" >GND</text>
<text x="584" y="76" fill="#0000FF" font-size="9.33" style="font-family:'Liberation Sans',sans-serif" transform="rotate(-90 584 76)" >6</text>
<text x="858.3" y="274.5" fill="#880000" font-size="9.33" style="font-family:'Liberation Sans',sans-serif" >5V</text>
<text x="911.8" y="274.5" fill="#880000" font-size="9.33" style="font-family:'Liberation Sans',sans-serif" text-anchor="end" >3V3</text>
<text x="858.3" y="284.5" fill="#880000" font-size="9.33" style="font-family:'Liberation Sans',sans-serif" >GND</text>
<text x="911.8" y="284.5" fill="#880000" font-size="9.33" style="font-family:'Liberation Sans',sans-serif" text-anchor="end" >D8</text>
<text x="858.3" y="294.5" fill="#880000" font-size="9.33" style="font-family:'Liberation Sans',sans-serif" >D4</text>
<text x="911.8" y="294.5" fill="#880000" font-size="9.33" style="font-family:'Liberation Sans',sans-serif" text-anchor="end" >D7</text>
<text x="858.3" y="304.5" fill="#880000" font-size="9.33" style="font-family:'Liberation Sans',sans-serif" >D3</text>
<text x="911.8" y="304.5" fill="#880000" font-size="9.33" style="font-family:'Liberation Sans',sans-serif" text-anchor="end" >D6</text>
<text x="858.3" y="314.5" fill="#880000" font-size="9.33" style="font-family:'Liberation Sans',sans-serif" >D2</text>
<text x="911.8" y="314.5" fill="#880000" font-size="9.33" style="font-family:'Liberation Sans',sans-serif" text-anchor="end" >D5</text>
<text x="858.3" y="324.5" fill="#880000" font-size="9.33" style="font-family:'Liberation Sans',sans-serif" >D1</text>
<text x="911.8" y="324.5" fill="#880000" font-size="9.33" style="font-family:'Liberation Sans',sans-serif" text-anchor="end" >D0</text>
<text x="858.3" y="334.5" fill="#880000" font-size="9.33" style="font-family:'Liberation Sans',sans-serif" >RX</text>
<text x="911.8" y="334.5" fill="#880000" font-size="9.33" style="font-family:'Liberation Sans',sans-serif" text-anchor="end" >A0</text>
<text x="858.3" y="344.5" fill="#880000" font-size="9.33" style="font-family:'Liberation Sans',sans-serif" >TX</text>
<text x="911.8" y="344.5" fill="#880000" font-size="9.33" style="font-family:'Liberation Sans',sans-serif" text-anchor="end" >RST</text>
<text x="105.8" y="450.4" fill="#0000FF" font-size="9.33" style="font-family:'Liberation Sans',sans-serif" >1</text>
<text x="105.8" y="460.4" fill="#0000FF" font-size="9.33" style="font-family:'Liberation Sans',sans-serif" >2</text>
<text x="101" y="455.4" fill="#0000FF" font-size="9.33" style="font-family:'Liberation Sans',sans-serif" text-anchor="end" >1</text>
<text x="101" y="465.4" fill="#0000FF" font-size="9.33" style="font-family:'Liberation Sans',sans-serif" text-anchor="end" >2</text>
<text x="723.6" y="545.3" fill="#0000FF" font-size="9.33" style="font-family:'Liberation Sans',sans-serif" text-anchor="end" >1</text>
<text x="728.8" y="550.7" fill="#0000FF" font-size="9.7" style="font-family:'Liberation Sans',sans-serif" >OUT/A</text>
<text x="825.6" y="545.3" fill="#FF0000" font-size="9.33" style="font-family:'Liberation Sans',sans-serif" >8</text>
<text x="821.3" y="550.7" fill="#FF0000" font-size="9.7" style="font-family:'Liberation Sans',sans-serif" text-anchor="end" >VCC</text>
<text x="723.6" y="555.3" fill="#0000FF" font-size="9.33" style="font-family:'Liberation Sans',sans-serif" text-anchor="end" >2</text>
<text x="728.8" y="560.7" fill="#0000FF" font-size="9.7" style="font-family:'Liberation Sans',sans-serif" >IN/A-</text>
<text x="825.6" y="555.3" fill="#0000FF" font-size="9.33" style="font-family:'Liberation Sans',sans-serif" >7</text>
<text x="821.3" y="560.7" fill="#0000FF" font-size="9.7" style="font-family:'Liberation Sans',sans-serif" text-anchor="end" >OUT/B</text>
<text x="723.6" y="565.3" fill="#0000FF" font-size="9.33" style="font-family:'Liberation Sans',sans-serif" text-anchor="end" >3</text>
<text x="728.8" y="570.7" fill="#0000FF" font-size="9.7" style="font-family:'Liberation Sans',sans-serif" >IN/A+</text>
<text x="825.6" y="565.3" fill="#0000FF" font-size="9.33" style="font-family:'Liberation Sans',sans-serif" >6</text>
<text x="821.3" y="570.7" fill="#0000FF" font-size="9.7" style="font-family:'Liberation Sans',sans-serif" text-anchor="end" >IN/B-</text>
<text x="723.6" y="575.3" fill="#000000" font-size="9.33" style="font-family:'Liberation Sans',sans-serif" text-anchor="end" >4</text>
<text x="728.8" y="580.7" fill="#000000" font-size="9.7" style="font-family:'Liberation Sans',sans-serif" >GND</text>
<text x="825.6" y="575.3" fill="#0000FF" font-size="9.33" style="font-family:'Liberation Sans',sans-serif" >5</text>
<text x="821.3" y="580.7" fill="#0000FF" font-size="9.7" style="font-family:'Liberation Sans',sans-serif" text-anchor="end" >IN/B+</text>
<text x="1116.8" y="286.5" fill="#0000FF" font-size="10.67" style="font-family:'Liberation Serif',serif" >Tx</text>
<text x="1071.8" y="296.5" fill="#0000FF" font-size="10.67" style="font-family:'Liberation Serif',serif" >Rx</text>
<text x="982" y="688.7" fill="#0000FF" font-size="10.67" style="font-family:'Liberation Serif',serif" >Rx</text>
<text x="635" y="660" fill="#0000FF" font-size="10.67" style="font-family:'Liberation Serif',serif" transform="rotate(-90 635 660)" >Tx</text>
<text x="1000" y="284" fill="#000000" font-size="12" style="font-family:'Liberation Serif',serif" transform="rotate(-90 1000 284)" >VCC</text>
<text x="118.6" y="18.6" fill="#880000" font-size="9.33" style="font-family:'Liberation Sans',sans-serif" >1</text>
<text x="118.6" y="888.6" fill="#880000" font-size="9.33" style="font-family:'Liberation Sans',sans-serif" >1</text>
<text x="314.6" y="18.6" fill="#880000" font-size="9.33" style="font-family:'Liberation Sans',sans-serif" >2</text>
<text x="314.6" y="888.6" fill="#880000" font-size="9.33" style="font-family:'Liberation Sans',sans-serif" >2</text>
<text x="510.6" y="18.6" fill="#880000" font-size="9.33" style="font-family:'Liberation Sans',sans-serif" >3</text>
<text x="510.6" y="888.6" fill="#880000" font-size="9.33" style="font-family:'Liberation Sans',sans-serif" >3</text>
<text x="706.6" y="18.6" fill="#880000" font-size="9.33" style="font-family:'Liberation Sans',sans-serif" >4</text>
<text x="706.6" y="888.6" fill="#880000" font-size="9.33" style="font-family:'Liberation Sans',sans-serif" >4</text>
<text x="902.6" y="18.6" fill="#880000" font-size="9.33" style="font-family:'Liberation Sans',sans-serif" >5</text>
<text x="902.6" y="888.6" fill="#880000" font-size="9.33" style="font-family:'Liberation Sans',sans-serif" >5</text>
<text x="11.7" y="118.6" fill="#880000" font-size="9.33" style="font-family:'Liberation Sans',sans-serif" textLength="6.3" lengthAdjust="spacingAndGlyphs" >A</text>
<text x="1150.8" y="118.6" fill="#880000" font-size="9.33" style="font-family:'Liberation Sans',sans-serif" textLength="6.3" lengthAdjust="spacingAndGlyphs" >A</text>
<text x="11.7" y="314.6" fill="#880000" font-size="9.33" style="font-family:'Liberation Sans',sans-serif" textLength="6.3" lengthAdjust="spacingAndGlyphs" >B</text>
<text x="1150.8" y="314.6" fill="#880000" font-size="9.33" style="font-family:'Liberation Sans',sans-serif" textLength="6.3" lengthAdjust="spacingAndGlyphs" >B</text>
<text x="11.7" y="510.6" fill="#880000" font-size="9.33" style="font-family:'Liberation Sans',sans-serif" textLength="6.3" lengthAdjust="spacingAndGlyphs" >C</text>
<text x="1150.8" y="510.6" fill="#880000" font-size="9.33" style="font-family:'Liberation Sans',sans-serif" textLength="6.3" lengthAdjust="spacingAndGlyphs" >C</text>
<text x="11.7" y="706.6" fill="#880000" font-size="9.33" style="font-family:'Liberation Sans',sans-serif" textLength="6.3" lengthAdjust="spacingAndGlyphs" >D</text>
<text x="1150.8" y="706.6" fill="#880000" font-size="9.33" style="font-family:'Liberation Sans',sans-serif" textLength="6.3" lengthAdjust="spacingAndGlyphs" >D</text>
<text x="754.3" y="812.4" fill="#880000" font-size="11.2" style="font-family:'Liberation Sans',sans-serif" textLength="31.8" lengthAdjust="spacingAndGlyphs" >TITLE:</text>
<text x="759.0" y="830.3" fill="#0000FF" font-size="13.33" style="font-family:'Liberation Sans',sans-serif" textLength="58.3" lengthAdjust="spacingAndGlyphs" >EMS-ESP</text>
<text x="754.0" y="855.6" fill="#880000" font-size="11.2" style="font-family:'Liberation Sans',sans-serif" textLength="28.5" lengthAdjust="spacingAndGlyphs" >Date:</text>
<text x="804.0" y="855.3" fill="#0000FF" font-size="12" style="font-family:'Liberation Sans',sans-serif" textLength="69.6" lengthAdjust="spacingAndGlyphs" >2019-11-19</text>
<text x="754.0" y="875.8" fill="#880000" font-size="11.2" style="font-family:'Liberation Sans',sans-serif" textLength="93.6" lengthAdjust="spacingAndGlyphs" >EASYEDA V5.8.22</text>
<text x="1075.2" y="826.4" fill="#880000" font-size="11.2" style="font-family:'Liberation Sans',sans-serif" textLength="23.6" lengthAdjust="spacingAndGlyphs" >REV:</text>
<text x="1106.5" y="827.5" fill="#0000FF" font-size="12" style="font-family:'Liberation Sans',sans-serif" textLength="18.2" lengthAdjust="spacingAndGlyphs" >1.2</text>
<text x="1034.0" y="855.7" fill="#880000" font-size="11.2" style="font-family:'Liberation Sans',sans-serif" textLength="33.9" lengthAdjust="spacingAndGlyphs" >Sheet:</text>
<text x="1079.5" y="855.6" fill="#0000FF" font-size="12" style="font-family:'Liberation Sans',sans-serif" textLength="18" lengthAdjust="spacingAndGlyphs" >1/1</text>
<text x="954.2" y="875.8" fill="#880000" font-size="11.2" style="font-family:'Liberation Sans',sans-serif" textLength="53.8" lengthAdjust="spacingAndGlyphs" >Drawn By:</text>
<text x="1019.2" y="875.6" fill="#0000FF" font-size="12" style="font-family:'Liberation Sans',sans-serif" textLength="41.5" lengthAdjust="spacingAndGlyphs" >proddy</text>
</g>
</svg>
</body></html>
